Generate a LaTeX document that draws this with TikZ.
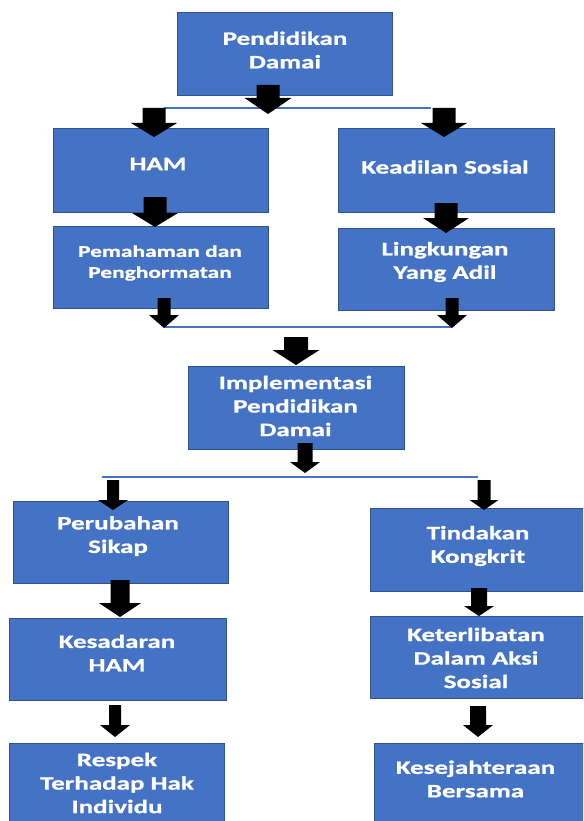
\documentclass[tikz,border=0pt]{standalone}
\usepackage{fontspec}
\newfontfamily\boxfont{Carlito}[FakeStretch=1.42,FakeBold=1]
\usetikzlibrary{calc}
\definecolor{boxblue}{HTML}{4472C4}
\definecolor{boxedge}{HTML}{2F528F}
\newcommand\blockarr[5]{\fill[black] let \p1=(#1), \p2=(#2) in
  (\x1-#3,\y1) -- (\x1-#3,\y2+#5) -- (\x1-#4,\y2+#5) -- (\x1,\y2) --
  (\x1+#4,\y2+#5) -- (\x1+#3,\y2+#5) -- (\x1+#3,\y1) -- cycle;}
\begin{document}
\begin{tikzpicture}[x=1pt,y=-1pt,
  box/.style={draw=boxedge, fill=boxblue, line width=1pt, inner sep=0pt},
  txt/.style={text=white, align=center, inner sep=0pt,
    font=\boxfont\bfseries\fontsize{19}{23.5}\selectfont},
  smalltxt/.style={txt, font=\boxfont\bfseries\fontsize{16.5}{21}\selectfont},
  link/.style={draw=boxblue, line width=1.6pt}]
\useasboundingbox (0,0) rectangle (583,821);
\clip (0,0) rectangle (583,821);
\fill[white] (0,0) rectangle (583,821);

% connecting lines
\coordinate (l1a) at (164,108); \coordinate (l1b) at (431,108);
\coordinate (l2a) at (164,327); \coordinate (l2b) at (452,327);
\coordinate (l3a) at (102,477); \coordinate (l3b) at (478,477);
\draw[link] (l1a) -- (l1b);
\draw[link] (l2a) -- (l2b);
\draw[link] (l3a) -- (l3b);

% boxes
\node[box, minimum width=215pt, minimum height=83pt] (pd)  at (284.5,54.5) {};
\node[box, minimum width=215pt, minimum height=83pt] (ham) at (160.5,170.5) {};
\node[box, minimum width=216pt, minimum height=83pt] (ks)  at (446,170.5) {};
\node[box, minimum width=215pt, minimum height=82pt] (pp)  at (160.5,267) {};
\node[box, minimum width=216pt, minimum height=82pt] (la)  at (446,269) {};
\node[box, minimum width=216pt, minimum height=83pt] (ipd) at (296,407.5) {};
\node[box, minimum width=215pt, minimum height=82pt] (ps)  at (120.5,542) {};
\node[box, minimum width=220pt, minimum height=83pt] (tk)  at (480,549.5) {};
\node[box, minimum width=217pt, minimum height=82pt] (kh)  at (117.5,659) {};
\node[box, minimum width=220pt, minimum height=82pt] (kas) at (480,657) {};
\node[box, minimum width=215pt, minimum height=87pt] (rt)  at (116.5,786.5) {};
\node[box, minimum width=216pt, minimum height=87pt] (kb)  at (482,786.5) {};

% texts
\node[txt] (pdt)  at (285,50) {Pendidikan\\Damai};
\node[txt] (hamt) at (158,164) {HAM};
\node[txt] (kst)  at (445,167) {Keadilan Sosial};
\node[smalltxt] (ppt) at (160,263) {Pemahaman dan\\Penghormatan};
\node[txt] (lat)  at (445,262) {Lingkungan\\Yang Adil};
\node[txt] (ipdt) at (295.5,406) {Implementasi\\Pendidikan\\Damai};
\node[txt] (pst)  at (118,536) {Perubahan\\Sikap};
\node[txt] (tkt)  at (478,546) {Tindakan\\Kongkrit};
\node[txt] (kht)  at (117,653) {Kesadaran\\HAM};
\node[txt] (kast) at (476,658) {Keterlibatan\\Dalam Aksi\\Sosial};
\node[txt] (rtt)  at (117,783) {Respek\\Terhadap Hak\\Individu};
\node[txt] (kbt)  at (475.5,779) {Kesejahteraan\\Bersama};

% block arrows
\coordinate (a1s) at (268,85);  \coordinate (a1e) at (268,114);
\coordinate (a2s) at (154,108); \coordinate (a2e) at (154,137);
\coordinate (a3s) at (444,108); \coordinate (a3e) at (444,137);
\coordinate (a4s) at (155,197); \coordinate (a4e) at (155,227);
\coordinate (a5s) at (446,203); \coordinate (a5e) at (446,233);
\coordinate (a6s) at (164,298); \coordinate (a6e) at (164,328);
\coordinate (a7s) at (452,298); \coordinate (a7e) at (452,328);
\coordinate (a8s) at (296,337); \coordinate (a8e) at (296,365);
\coordinate (a9s) at (305,443); \coordinate (a9e) at (305,473);
\coordinate (a10s) at (113,480); \coordinate (a10e) at (113,510);
\coordinate (a11s) at (484,480); \coordinate (a11e) at (484,510);
\coordinate (a12s) at (120,580); \coordinate (a12e) at (120,617);
\coordinate (a13s) at (479,588); \coordinate (a13e) at (479,616);
\coordinate (a14s) at (115,705); \coordinate (a14e) at (115,737);
\coordinate (a15s) at (478,706); \coordinate (a15e) at (478,737);

\blockarr{a1s}{a1e}{11.5pt}{23.5pt}{16pt}
\blockarr{a2s}{a2e}{11.5pt}{23pt}{14pt}
\blockarr{a3s}{a3e}{11.5pt}{23pt}{14pt}
\blockarr{a4s}{a4e}{11.5pt}{23pt}{14pt}
\blockarr{a5s}{a5e}{11.5pt}{23pt}{15pt}
\blockarr{a6s}{a6e}{6.5pt}{15pt}{13pt}
\blockarr{a7s}{a7e}{6.5pt}{15pt}{13pt}
\blockarr{a8s}{a8e}{12pt}{23.5pt}{15pt}
\blockarr{a9s}{a9e}{7.5pt}{15pt}{11pt}
\blockarr{a10s}{a10e}{6pt}{15pt}{10pt}
\blockarr{a11s}{a11e}{6.5pt}{14.5pt}{10pt}
\blockarr{a12s}{a12e}{9.5pt}{21pt}{14pt}
\blockarr{a13s}{a13e}{8pt}{15pt}{10pt}
\blockarr{a14s}{a14e}{6pt}{15pt}{12pt}
\blockarr{a15s}{a15e}{8pt}{15pt}{12pt}
\end{tikzpicture}
\end{document}
